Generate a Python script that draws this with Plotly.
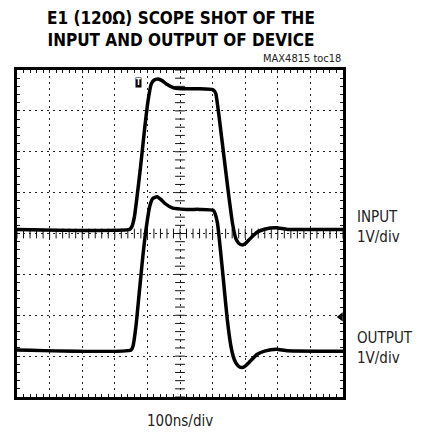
import numpy as np
import plotly.graph_objects as go

# ---- data (divisions: x 0..10 @100ns/div, y -4..4 @1V/div) ----
input_x = [0, 3.45, 3.52, 3.6, 3.67, 3.79, 3.92, 4.02, 4.12, 4.2, 4.33, 4.45, 4.58, 4.83,
           5.2, 5.6, 6.0, 6.06, 6.10, 6.2, 6.35, 6.5, 6.61, 6.71, 6.8, 6.91, 7.01, 7.11,
           7.36, 7.62, 7.95, 8.3, 10]
input_y = [0.1, 0.1, 0.16, 0.4, 0.82, 1.63, 2.6, 3.25, 3.66, 3.75, 3.78, 3.74, 3.66, 3.56,
           3.54, 3.54, 3.52, 3.48, 3.42, 2.85, 1.87, 0.9, 0.25, -0.12, -0.24, -0.28, -0.24, -0.16,
           0.03, 0.11, 0.14, 0.1, 0.1]

output_x = [0, 3.5, 3.56, 3.65, 3.75, 3.87, 3.97, 4.07, 4.17, 4.3, 4.42, 4.53, 4.78, 5.2,
            5.6, 6.02, 6.08, 6.15, 6.25, 6.35, 6.45, 6.56, 6.63, 6.71, 6.8, 6.91, 7.01, 7.11,
            7.36, 7.62, 7.95, 8.3, 10]
output_y = [-2.85, -2.85, -2.75, -2.26, -1.45, -0.48, 0.17, 0.66, 0.86, 0.9, 0.83, 0.74, 0.62, 0.59,
            0.59, 0.57, 0.48, 0.25, -0.48, -1.29, -2.1, -2.75, -3.0, -3.16, -3.25, -3.28, -3.24, -3.16,
            -2.96, -2.87, -2.83, -2.87, -2.88]

trigger_pos = (3.74, 3.70)
trigger_level = -2.04

title_lines = ["E1 (120Ω) SCOPE SHOT OF THE", "INPUT AND OUTPUT OF DEVICE"]
toc_label = "MAX4815 toc18"
x_label = "100ns/div"
ch_labels = [("INPUT", "1V/div", 0.1), ("OUTPUT", "1V/div", -2.85)]

NARROW = "DejaVu Sans Condensed, Liberation Sans Narrow, Arial Narrow, sans-serif"

W, H = 422, 432
ML, MR, MT, MB = 17, 79, 70, 35
PW, PH = W - ML - MR, H - MT - MB


def py(ypix):
    return (H - MB - ypix) / PH


def px(xpix):
    return (xpix - ML) / PW


fig = go.Figure()

# center crosshair ticks
cx = np.round(np.arange(0, 10.001, 0.2), 3)
cy = np.round(np.arange(-4, 4.001, 0.2), 3)
fig.add_trace(go.Scatter(x=cx, y=np.zeros_like(cx), mode="markers",
                         marker=dict(symbol="line-ns", size=7, line=dict(width=1, color="#111")),
                         hoverinfo="skip", showlegend=False))
fig.add_trace(go.Scatter(x=np.full_like(cy, 5.0), y=cy, mode="markers",
                         marker=dict(symbol="line-ew", size=7, line=dict(width=1, color="#111")),
                         hoverinfo="skip", showlegend=False))

for xs, ys in [(input_x, input_y), (output_x, output_y)]:
    fig.add_trace(go.Scatter(x=xs, y=ys, mode="lines",
                             line=dict(color="black", width=3.5, shape="spline", smoothing=0.5),
                             hoverinfo="skip", showlegend=False))

# trigger level marker on right edge
fig.add_trace(go.Scatter(x=[9.93], y=[trigger_level], mode="markers",
                         marker=dict(symbol="triangle-left", size=8, color="black"),
                         hoverinfo="skip", showlegend=False, cliponaxis=False))

axis_common = dict(showline=True, linewidth=3, linecolor="black", mirror="allticks",
                   ticks="inside", ticklen=3, tickcolor="#111", tickwidth=1,
                   showticklabels=False, zeroline=False,
                   showgrid=True, gridcolor="#222", gridwidth=1, griddash="2px,4px",
                   fixedrange=True)

fig.update_xaxes(range=[0, 10], dtick=1, tick0=0,
                 minor=dict(dtick=0.2, ticks="inside", ticklen=3, tickcolor="#111", showgrid=False),
                 **axis_common)
fig.update_yaxes(range=[-4, 4], dtick=1, tick0=0,
                 minor=dict(dtick=0.2, ticks="inside", ticklen=3, tickcolor="#111", showgrid=False),
                 **axis_common)

ann = []
# title (single text block, two lines)
ann.append(dict(text="<b>" + "<br>".join(title_lines) + "</b>", x=px(180.5), y=py(29), xref="paper",
                yref="paper", xanchor="center", yanchor="middle", showarrow=False,
                font=dict(family=NARROW, size=17, color="black")))
ann.append(dict(text=toc_label, x=px(343), y=py(58.5), xref="paper", yref="paper",
                xanchor="right", yanchor="middle", showarrow=False,
                font=dict(family=NARROW, size=11, color="#222")))
ann.append(dict(text=x_label, x=px(180), y=py(421), xref="paper", yref="paper",
                xanchor="center", yanchor="middle", showarrow=False,
                font=dict(family=NARROW, size=15, color="#222")))
for name, unit, lvl in ch_labels:
    ycen = H - MB - (lvl + 4) / 8 * PH
    ann.append(dict(text=name, x=px(355), y=py(ycen - 12), xref="paper", yref="paper",
                    xanchor="left", yanchor="middle", showarrow=False,
                    font=dict(family=NARROW, size=15, color="#222")))
    ann.append(dict(text=unit, x=px(355), y=py(ycen + 8), xref="paper", yref="paper",
                    xanchor="left", yanchor="middle", showarrow=False,
                    font=dict(family=NARROW, size=15, color="#222")))
# trigger icon
ann.append(dict(text="<b>T</b>", x=trigger_pos[0], y=trigger_pos[1], xref="x", yref="y",
                xanchor="center", yanchor="middle", showarrow=False, bgcolor="black",
                borderpad=0, font=dict(family=NARROW, size=8, color="white")))

fig.update_layout(width=W, height=H, margin=dict(l=ML, r=MR, t=MT, b=MB),
                  paper_bgcolor="white", plot_bgcolor="white", annotations=ann,
                  showlegend=False)

fig.write_html("out.html", config={"displayModeBar": False},
               post_script="document.body.style.margin='0';document.body.style.overflow='hidden';")
